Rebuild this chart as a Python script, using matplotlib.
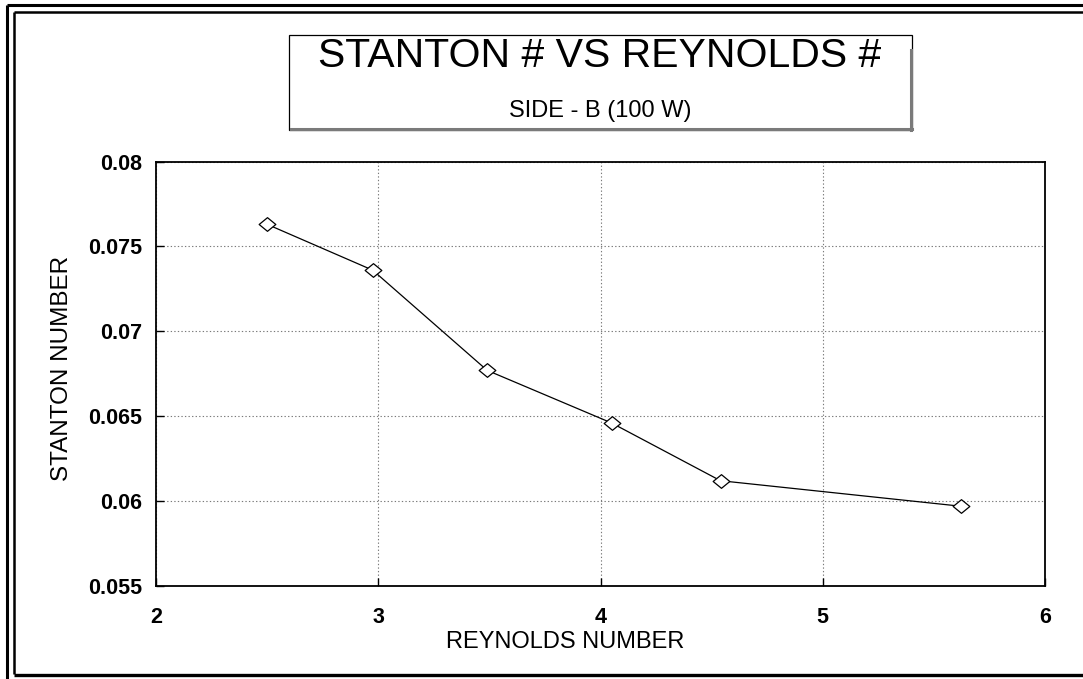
import matplotlib
matplotlib.use("Agg")
import matplotlib.pyplot as plt
from matplotlib.patches import Rectangle
from matplotlib.lines import Line2D
from matplotlib.path import Path

# Heat-transfer results, side B at 100 W
reynolds = [2.50, 2.975, 3.49, 4.05, 4.54, 5.62]
stanton = [0.0763, 0.0736, 0.0677, 0.0646, 0.0612, 0.0597]

x_ticks = [2, 3, 4, 5, 6]
y_ticks = [0.055, 0.06, 0.065, 0.07, 0.075, 0.08]
y_tick_labels = ["0.055", "0.06", "0.065", "0.07", "0.075", "0.08"]

title = "STANTON # VS REYNOLDS #"
subtitle = "SIDE - B (100 W)"
x_label = "REYNOLDS NUMBER"
y_label = "STANTON NUMBER"

plt.rcParams["font.family"] = ["Liberation Sans", "DejaVu Sans"]

W, H = 1083, 679
fig = plt.figure(figsize=(W / 100, H / 100), dpi=100)
fig.patch.set_facecolor("white")

# Page frame (double rule) drawn in pixel space
frame = fig.add_axes([0, 0, 1, 1], zorder=0)
frame.set_xlim(0, W)
frame.set_ylim(H, 0)
frame.axis("off")
for xs, ys, lw in [
    ([7, 7], [5, H + 5], 2.2),
    ([7, W + 5], [5, 5], 2.2),
    ([14, 14], [12, 674], 1.8),
    ([14, W + 5], [12, 12], 1.8),
    ([14, W + 5], [674.5, 674.5], 2.4),
]:
    frame.add_line(Line2D(xs, ys, color="black", lw=lw, solid_capstyle="butt"))

# Title box with a grey drop shadow on the lower and right edges
bx0, bx1, by0, by1 = 289, 912, 35, 130
frame.add_patch(Rectangle((bx0, by0), bx1 - bx0, by1 - by0, fill=False,
                          edgecolor="black", lw=0.9))
frame.add_line(Line2D([bx0 + 2, bx1], [by1 - 1.5, by1 - 1.5], color="#7a7a7a", lw=2.2))
frame.add_line(Line2D([bx1 - 1.5, bx1 - 1.5], [by0 + 15, by1], color="#7a7a7a", lw=2.2))
frame.text(600, 67, title, ha="center", va="baseline", fontsize=29.5, color="black")
frame.text(600, 116.5, subtitle, ha="center", va="baseline", fontsize=17, color="black")

# Hollow diamond marker, slightly wider than tall
diamond = Path([(-1, 0), (0, 0.82), (1, 0), (0, -0.82), (-1, 0)],
               [Path.MOVETO, Path.LINETO, Path.LINETO, Path.LINETO, Path.CLOSEPOLY])

# Plot area
ax = fig.add_axes([156 / W, 1 - 586 / H, (1045 - 156) / W, (586 - 161.5) / H], zorder=1)
ax.plot(reynolds, stanton, color="black", lw=0.9,
        marker=diamond, markersize=12,
        markerfacecolor="white", markeredgecolor="black", markeredgewidth=0.9)

ax.set_xlim(2, 6)
ax.set_ylim(0.055, 0.08)
ax.set_xticks(x_ticks)
ax.set_xticklabels([str(v) for v in x_ticks])
ax.set_yticks(y_ticks)
ax.set_yticklabels(y_tick_labels)

ax.grid(True, which="major", color="#7a7a7a", lw=0.8, linestyle=(0, (1.2, 2.0)))
for s in ax.spines.values():
    s.set_linewidth(1.3)
    s.set_color("black")

ax.tick_params(axis="both", direction="in", length=6, width=1.0, colors="black")
ax.tick_params(axis="x", pad=15)
ax.tick_params(axis="y", pad=10)
for lbl in ax.get_xticklabels() + ax.get_yticklabels():
    lbl.set_fontsize(15.5)
    lbl.set_fontweight("bold")

ax.set_xlabel(x_label, fontsize=17)
ax.set_ylabel(y_label, fontsize=17.5)
ax.xaxis.set_label_coords((565 - 156) / (1045 - 156), -(642 - 586) / (586 - 161.5))
ax.yaxis.set_label_coords(-(156 - 62) / (1045 - 156), 0.5 + (374 - 369) / (586 - 161.5))
ax.xaxis.label.set_va("center")
ax.yaxis.label.set_va("center")

fig.savefig("out.png", dpi=100, facecolor="white")
